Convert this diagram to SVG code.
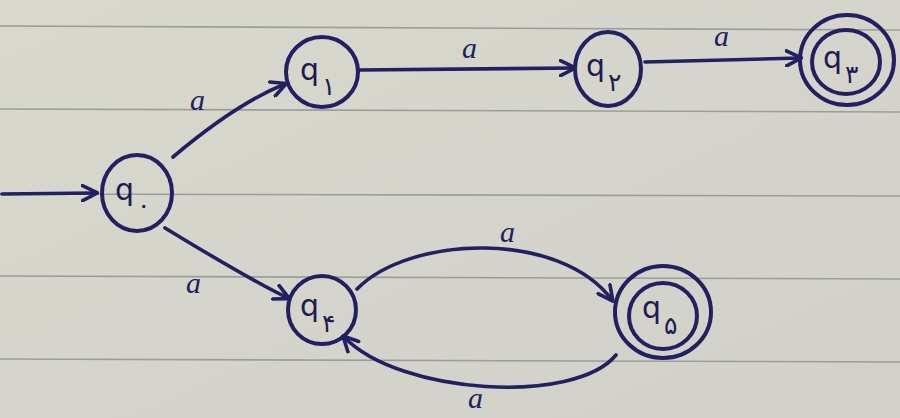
<svg xmlns="http://www.w3.org/2000/svg" width="900" height="418" viewBox="0 0 900 418">
  <defs>
    <marker id="arrow" viewBox="0 0 12 12" refX="10" refY="6" markerWidth="5" markerHeight="5" orient="auto" markerUnits="strokeWidth">
      <path d="M1,1 L11,6 L1,11" fill="none" stroke="#231f60" stroke-width="2.4" stroke-linecap="round" stroke-linejoin="round"/>
    </marker>
    <linearGradient id="paper" x1="0" y1="0" x2="1" y2="1">
      <stop offset="0" stop-color="#d9d8cf"/>
      <stop offset="1" stop-color="#d2d1c9"/>
    </linearGradient>
  </defs>
  <style>
    .ring { fill: none; stroke: #231f60; stroke-width: 4; }
    .edge { fill: none; stroke: #231f60; stroke-width: 3.6; stroke-linecap: round; marker-end: url(#arrow); }
    .rule { stroke: #9d9d98; stroke-width: 1.6; }
    .name { font-family: "DejaVu Sans", "Noto Sans", sans-serif; font-size: 30px; fill: #1e1b50; }
    .sub { font-family: "DejaVu Sans", "Noto Sans", sans-serif; font-size: 25px; fill: #1e1b50; }
    .lbl { font-family: "Liberation Serif", serif; font-style: italic; font-size: 30px; fill: #231f60; }
  </style>

  <!-- ruled paper -->
  <rect width="900" height="418" fill="url(#paper)"/>
  <g id="rules">
    <line class="rule" x1="0" y1="26" x2="900" y2="30"/>
    <line class="rule" x1="0" y1="109" x2="900" y2="112"/>
    <line class="rule" x1="0" y1="194" x2="900" y2="196"/>
    <line class="rule" x1="0" y1="276" x2="900" y2="279"/>
    <line class="rule" x1="0" y1="359" x2="900" y2="362"/>
  </g>

  <!-- transitions -->
  <g id="connectors">
    <path class="edge" d="M2,194 L96,193"/>
    <path class="edge" d="M173,157 C205,130 245,100 285,84"/>
    <path class="edge" d="M359,70 L574,68"/>
    <path class="edge" d="M645,62 L800,58"/>
    <path class="edge" d="M165,228 C205,252 250,280 288,298"/>
    <path class="edge" d="M357,289 C410,235 560,230 612,300"/>
    <path class="edge" d="M616,355 C575,405 400,395 344,337"/>
    <text class="lbl" x="190" y="110">a</text>
    <text class="lbl" x="462" y="58">a</text>
    <text class="lbl" x="714" y="46">a</text>
    <text class="lbl" x="186" y="293">a</text>
    <text class="lbl" x="500" y="242">a</text>
    <text class="lbl" x="468" y="408">a</text>
  </g>

  <g id="q0">
    <ellipse class="ring" cx="137" cy="193" rx="35" ry="38"/>
    <text class="name" x="115" y="200">q</text>
    <text class="sub" x="137" y="214">۰</text>
  </g>
  <g id="q1">
    <ellipse class="ring" cx="322" cy="72" rx="36" ry="35"/>
    <text class="name" x="300" y="80">q</text>
    <text class="sub" x="322" y="95">۱</text>
  </g>
  <g id="q2">
    <ellipse class="ring" cx="608" cy="69" rx="33" ry="37"/>
    <text class="name" x="586" y="76">q</text>
    <text class="sub" x="608" y="91">۲</text>
  </g>
  <g id="q3">
    <ellipse class="ring" cx="847" cy="60" rx="47" ry="45"/>
    <ellipse class="ring" cx="846" cy="62" rx="34" ry="32"/>
    <text class="name" x="823" y="68">q</text>
    <text class="sub" x="845" y="83">۳</text>
  </g>
  <g id="q4">
    <ellipse class="ring" cx="322" cy="310" rx="34" ry="34"/>
    <text class="name" x="300" y="316">q</text>
    <text class="sub" x="322" y="332">۴</text>
  </g>
  <g id="q5">
    <ellipse class="ring" cx="663" cy="312" rx="48" ry="46"/>
    <ellipse class="ring" cx="663" cy="316" rx="34" ry="33"/>
    <text class="name" x="642" y="318">q</text>
    <text class="sub" x="664" y="334">۵</text>
  </g>
</svg>
